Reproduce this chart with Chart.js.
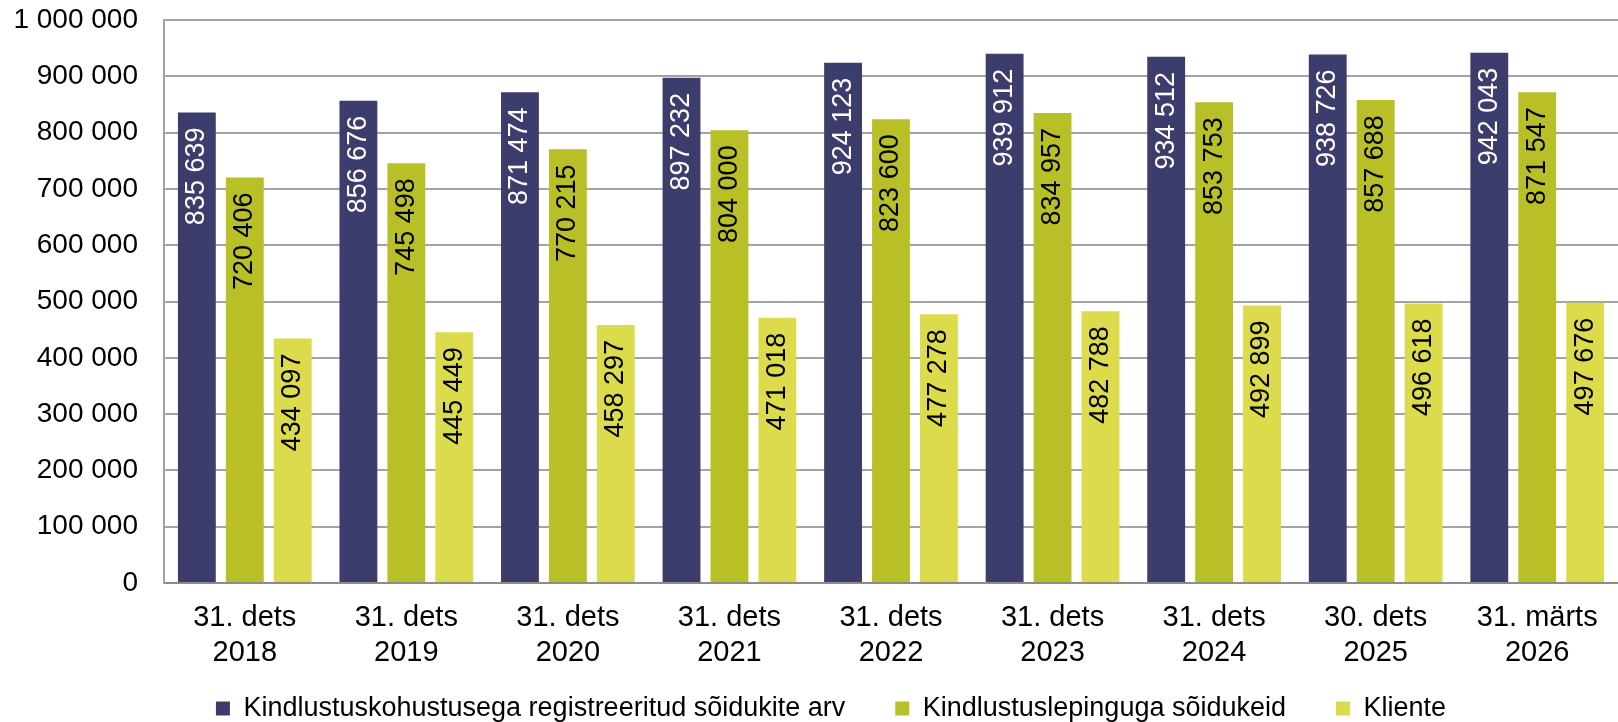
<!DOCTYPE html>
<html>
<head>
<meta charset="utf-8">
<script src="https://cdn.jsdelivr.net/npm/chart.js@4"></script>
<style>
  html, body { margin: 0; padding: 0; background: #fff; }
  #wrap { width: 1618px; height: 722px; position: relative; }
</style>
</head>
<body>
<div id="wrap"><canvas id="vehChart"></canvas></div>
<script>
const categories = [
  ["31. dets", "2018"],
  ["31. dets", "2019"],
  ["31. dets", "2020"],
  ["31. dets", "2021"],
  ["31. dets", "2022"],
  ["31. dets", "2023"],
  ["31. dets", "2024"],
  ["30. dets", "2025"],
  ["31. märts", "2026"],
];

const seriesNames = [
  "Kindlustuskohustusega registreeritud sõidukite arv",
  "Kindlustuslepinguga sõidukeid",
  "Kliente",
];

const registered = [835639, 856676, 871474, 897232, 924123, 939912, 934512, 938726, 942043];
const insured = [720406, 745498, 770215, 804000, 823600, 834957, 853753, 857688, 871547];
const clients = [434097, 445449, 458297, 471018, 477278, 482788, 492899, 496618, 497676];

const FONT = "'Liberation Sans', Arial, sans-serif";

function fmt(v) {
  return String(v).replace(/\B(?=(\d{3})+(?!\d))/g, " ");
}

// value labels written vertically inside the top of each bar
const barLabels = {
  id: "barLabels",
  afterDatasetsDraw(chart) {
    const c = chart.ctx;
    c.save();
    c.font = "27px " + FONT;
    c.textAlign = "right";
    c.textBaseline = "middle";
    chart.data.datasets.forEach((ds, di) => {
      const meta = chart.getDatasetMeta(di);
      meta.data.forEach((bar, i) => {
        c.save();
        c.translate(bar.x, bar.y + 15);
        c.rotate(-Math.PI / 2);
        c.fillStyle = ds.labelColor;
        c.fillText(fmt(ds.data[i]), 0, 0);
        c.restore();
      });
    });
    c.restore();
  },
};

// legend in the original sits a bit right of centre
const legendNudge = {
  id: "legendNudge",
  afterLayout(chart) {
    if (chart.legend) chart.legend.left += 44;
  },
};

const data = {
  labels: categories,
  datasets: [
    { label: seriesNames[0], data: registered, backgroundColor: "#3d3d6d", labelColor: "#ffffff" },
    { label: seriesNames[1], data: insured, backgroundColor: "#b9c027", labelColor: "#000000" },
    { label: seriesNames[2], data: clients, backgroundColor: "#dcdb4b", labelColor: "#000000" },
  ],
};

new Chart(document.getElementById("vehChart"), {
  type: "bar",
  data: data,
  options: {
    responsive: true,
    maintainAspectRatio: false,
    animation: false,
    categoryPercentage: 0.89,
    barPercentage: 0.79,
    layout: { padding: { top: 0, right: 0, bottom: -10, left: 0 } },
    scales: {
      x: {
        grid: { display: false, drawTicks: false },
        border: { display: true, color: "#8c8c8c", width: 2 },
        ticks: {
          color: "#000",
          padding: 18,
          maxRotation: 0,
          autoSkip: false,
          font: { family: FONT, size: 29 },
        },
        afterFit(scale) { scale.height = 92; },
      },
      y: {
        min: 0,
        max: 1000000,
        grid: { color: "#a3a3a3", lineWidth: 2, drawTicks: false },
        border: { display: true, color: "#a3a3a3", width: 2 },
        ticks: {
          stepSize: 100000,
          color: "#000",
          padding: 26,
          font: { family: FONT, size: 28 },
          callback: (v) => fmt(v),
        },
        afterFit(scale) {
          scale.width = 164;
          scale.paddingTop = 20;
        },
      },
    },
    plugins: {
      tooltip: { enabled: false },
      legend: {
        position: "bottom",
        labels: {
          color: "#000",
          boxWidth: 14,
          boxHeight: 14,
          padding: 20,
          font: { family: FONT, size: 27 },
          generateLabels(chart) {
            const items = Chart.defaults.plugins.legend.labels.generateLabels(chart);
            items.forEach((it, i) => {
              it.lineWidth = 0;
              if (i < items.length - 1) it.text += "\u00a0".repeat(4);
            });
            return items;
          },
        },
      },
    },
  },
  plugins: [barLabels, legendNudge],
});
</script>
</body>
</html>
